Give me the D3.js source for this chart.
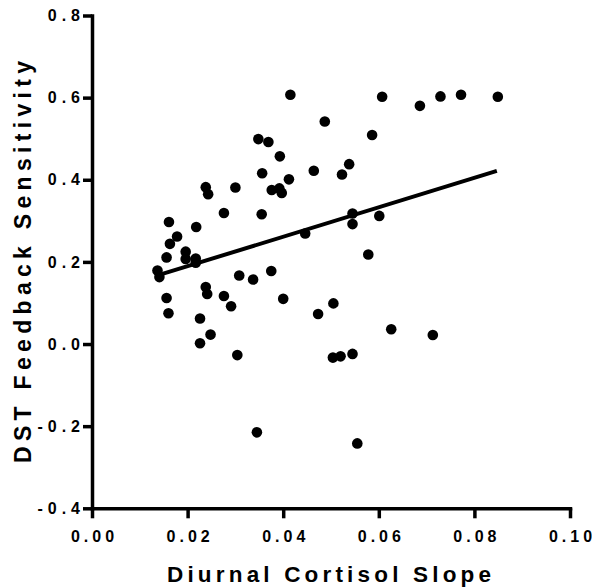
<!DOCTYPE html>
<html><head><meta charset="utf-8">
<script src="https://cdn.jsdelivr.net/npm/d3@7"></script>
<style>body{margin:0;background:#fff}svg{display:block}</style>
</head><body>
<svg id="c" width="592" height="588"></svg>
<script>
// Diurnal cortisol slope (x) vs DST feedback sensitivity (y)
const cortisolSlope = [
  0.0415, 0.0607, 0.0686, 0.0729, 0.0772, 0.0849, 0.0487, 0.0586, 0.0348, 0.0369,
  0.0393, 0.0538, 0.0464, 0.0523, 0.0356, 0.0412, 0.0300, 0.0238, 0.0243, 0.0376,
  0.0392, 0.0397, 0.0276, 0.0355, 0.0545, 0.0545, 0.0601, 0.0161, 0.0218, 0.0178,
  0.0163, 0.0446, 0.0196, 0.0156, 0.0196, 0.0217, 0.0217, 0.0578, 0.0137, 0.0141,
  0.0375, 0.0308, 0.0337, 0.0238, 0.0241, 0.0276, 0.0291, 0.0156, 0.0160, 0.0400,
  0.0226, 0.0473, 0.0505, 0.0626, 0.0713, 0.0248, 0.0226, 0.0304, 0.0504, 0.0520,
  0.0545, 0.0345, 0.0555
];
const dstSensitivity = [
  0.607, 0.602, 0.580, 0.603, 0.607, 0.602, 0.542, 0.509, 0.499, 0.492,
  0.457, 0.438, 0.422, 0.413, 0.416, 0.401, 0.381, 0.382, 0.365, 0.375,
  0.379, 0.368, 0.319, 0.316, 0.318, 0.292, 0.312, 0.297, 0.285, 0.262,
  0.244, 0.269, 0.225, 0.211, 0.207, 0.208, 0.198, 0.218, 0.179, 0.163,
  0.178, 0.167, 0.157, 0.139, 0.122, 0.117, 0.092, 0.112, 0.075, 0.110,
  0.062, 0.073, 0.099, 0.036, 0.022, 0.023, 0.002, -0.027, -0.033, -0.030,
  -0.024, -0.215, -0.242
];
// fitted regression line end points
const fitSlope = [0.0137, 0.0847];
const fitSensitivity = [0.167, 0.4215];
const xTicks = [0, 0.02, 0.04, 0.06, 0.08, 0.10];
const yTicks = [-0.4, -0.2, 0, 0.2, 0.4, 0.6, 0.8];
const xTitle = "Diurnal Cortisol Slope";
const yTitle = "DST Feedback Sensitivity";

const svg = d3.select("#c");
const FONT = "'Liberation Sans', Arial, Helvetica, sans-serif";
const x = d3.scaleLinear().domain([0, 0.1]).range([92, 570]);
const y = d3.scaleLinear().domain([-0.4, 0.8]).range([508.3, 15.5]);

// points
svg.append("g").selectAll("circle")
  .data(cortisolSlope.map((v, i) => [v, dstSensitivity[i]]))
  .join("circle")
  .attr("cx", d => x(d[0])).attr("cy", d => y(d[1]))
  .attr("r", 5.3).style("fill", "#000");

// regression line
svg.append("path")
  .datum(fitSlope.map((v, i) => [v, fitSensitivity[i]]))
  .attr("d", d3.line().x(d => x(d[0])).y(d => y(d[1])))
  .style("fill", "none").style("stroke", "#000").style("stroke-width", "4px");

const LSX = 4, LSY = 5;
// x axis
const gx = svg.append("g").attr("transform", `translate(0,${y(-0.4)})`)
  .call(d3.axisBottom(x).tickValues(xTicks).tickFormat(d => d.toFixed(2))
    .tickSize(10).tickSizeOuter(0).tickPadding(12));
// y axis
const gy = svg.append("g").attr("transform", `translate(${x(0)},0)`)
  .call(d3.axisLeft(y).tickValues(yTicks).tickFormat(d => d.toFixed(1))
    .tickSize(9).tickSizeOuter(0).tickPadding(3));

[gx, gy].forEach(g => {
  g.selectAll(".domain").style("stroke", "#000").style("stroke-width", "3.5px").style("stroke-linecap", "square");
  g.selectAll(".tick line").style("stroke", "#000").style("stroke-width", "3.5px");
  g.selectAll(".tick text").style("fill", "#000")
    .style("font-family", FONT).style("font-weight", "bold").style("font-size", "16px");
});
gx.selectAll(".tick text").style("letter-spacing", LSX + "px").attr("dx", LSX / 2);
gy.selectAll(".tick text").style("letter-spacing", LSY + "px").attr("dx", LSY);

// titles
svg.append("text").text(xTitle)
  .attr("x", 329).attr("y", 582)
  .attr("text-anchor", "middle")
  .style("font-family", FONT).style("font-weight", "bold").style("font-size", "22.5px")
  .attr("textLength", 324).attr("lengthAdjust", "spacing");

svg.append("text").text(yTitle)
  .attr("transform", "translate(31,262) rotate(-90)")
  .attr("text-anchor", "middle")
  .style("font-family", FONT).style("font-weight", "bold").style("font-size", "23px")
  .attr("textLength", 402).attr("lengthAdjust", "spacing");
</script>
</body></html>
